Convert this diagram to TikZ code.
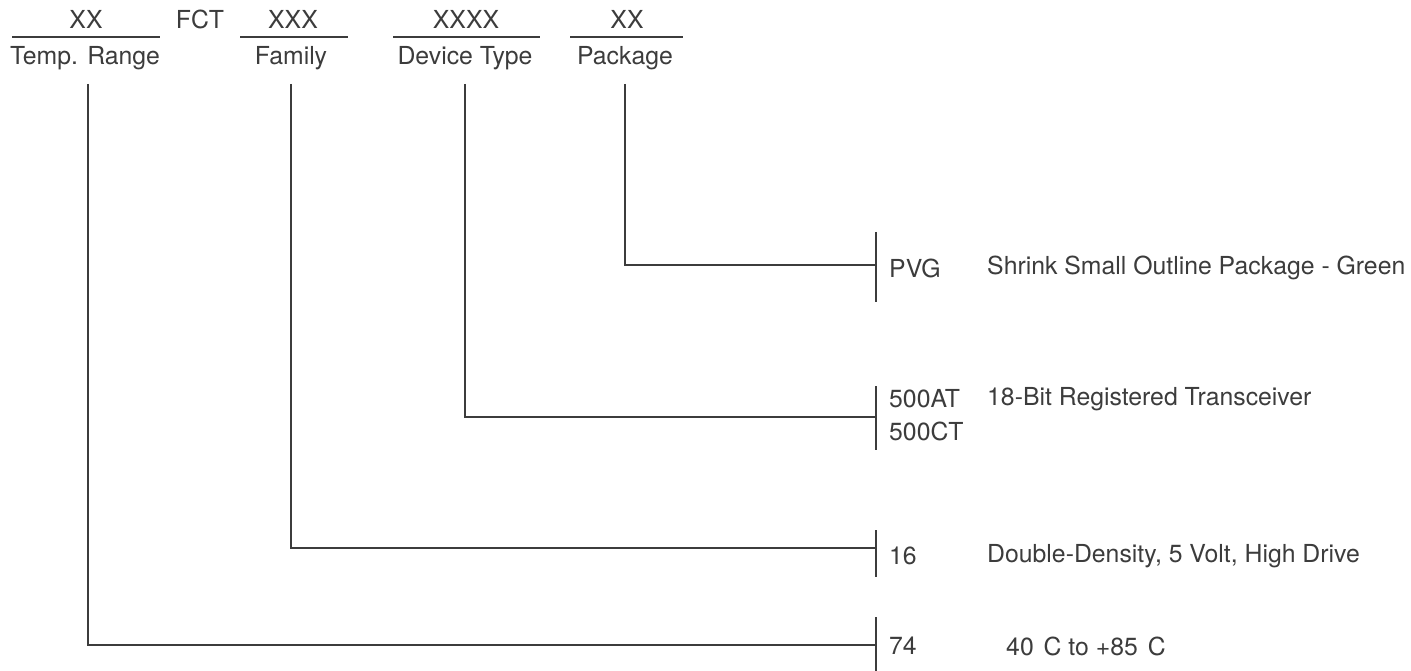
\documentclass[tikz,border=0pt]{standalone}
\usepackage{fontspec}
\setmainfont{TeX Gyre Heros}
\definecolor{ink}{HTML}{3C3C3C}
\tikzset{
  lbl/.style={inner sep=0pt, text=ink, font=\fontsize{24.8}{30}\selectfont},
  rule/.style={draw=ink, line width=1.3pt},
  wire/.style={draw=ink, line width=1.1pt},
}
\begin{document}
\begin{tikzpicture}[x=1pt,y=-1pt]
\useasboundingbox (0,0) rectangle (1411,671);
% top row
\node[lbl] (xx1) at (86,19) {XX};
\node[lbl] (fct) at (200,19) {FCT};
\node[lbl] (xxx) at (293,19) {XXX};
\node[lbl] (xxxx) at (466,19) {XXXX};
\node[lbl] (xx2) at (627,19) {XX};
\draw[rule] (12,37) -- (160,37);
\draw[rule] (240,37) -- (348,37);
\draw[rule] (393,37) -- (540,37);
\draw[rule] (570,37) -- (683,37);
% category labels
\node[lbl] (temp) at (85,58) {Temp. Range};
\node[lbl] (fam) at (291,58) {Family};
\node[lbl] (dev) at (465,58) {Device Type};
\node[lbl] (pkg) at (625,58) {Package};
% start points and bar junctions
\coordinate (ts) at (88,84);
\coordinate (fs) at (291,84);
\coordinate (ds) at (465,84);
\coordinate (ps) at (625,84);
\coordinate (pj) at (876,265);
\coordinate (dj) at (876,417);
\coordinate (fj) at (876,548);
\coordinate (tj) at (876,645);
% connectors
\draw[wire] (ps) |- (pj);
\draw[wire] (ds) |- (dj);
\draw[wire] (fs) |- (fj);
\draw[wire] (ts) |- (tj);
% bars
\draw[wire] (876,232) -- (876,302);
\draw[wire] (876,386) -- (876,450);
\draw[wire] (876,530) -- (876,577);
\draw[wire] (876,617) -- (876,671);
% codes
\node[lbl, anchor=west] (pvg) at (889,268) {PVG};
\node[lbl, anchor=west] (c500a) at (889,399) {500AT};
\node[lbl, anchor=west] (c500c) at (889,431) {500CT};
\node[lbl, anchor=west] (c16) at (889,556) {16};
\node[lbl, anchor=west] (c74) at (889,646) {74};
% descriptions
\node[lbl, anchor=west] (dpvg) at (987,268) {Shrink Small Outline Package - Green};
\node[lbl, anchor=west] (d500) at (987,399) {18-Bit Registered Transceiver};
\node[lbl, anchor=west] (d16) at (987,556) {Double-Density, 5 Volt, High Drive};
\node[lbl, anchor=west] (d74) at (1006,646) {40\hspace{0.4em}C to +85\hspace{0.4em}C};
\end{tikzpicture}
\end{document}
